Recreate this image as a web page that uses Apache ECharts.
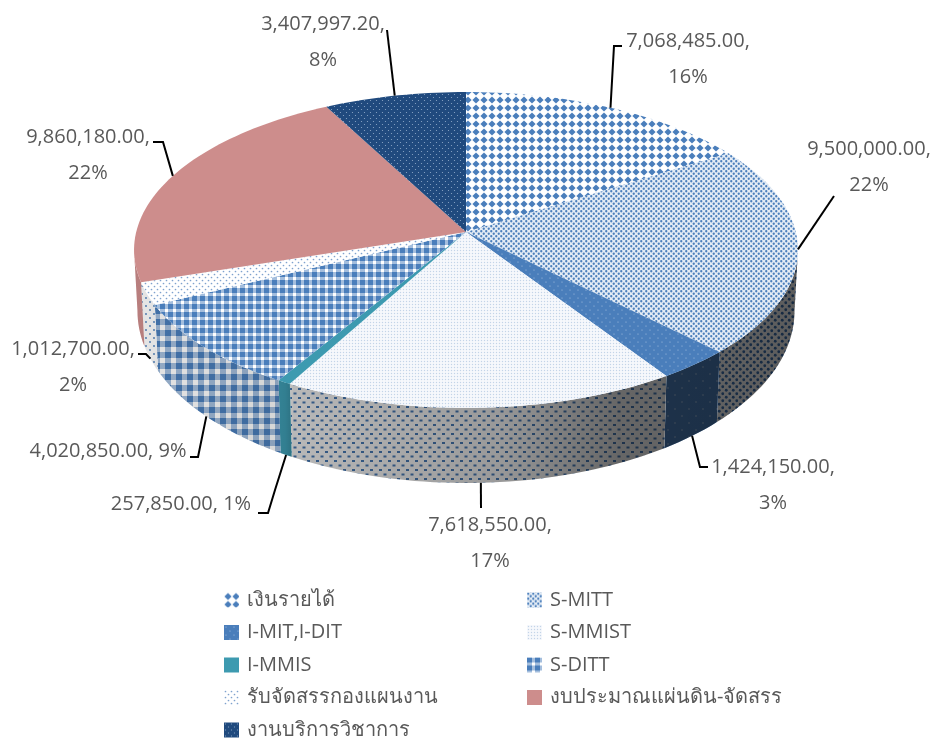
<!DOCTYPE html>
<html>
<head>
<meta charset="utf-8">
<style>html,body{margin:0;padding:0;background:#fff}</style>
<script src="https://cdn.jsdelivr.net/npm/echarts@6/dist/echarts.min.js"></script>
</head>
<body>
<div id="chart" style="width:935px;height:740px;"></div>
<script>
var sliceNames = ["เงินรายได้", "S-MITT", "I-MIT,I-DIT", "S-MMIST", "I-MMIS", "S-DITT", "รับจัดสรรกองแผนงาน", "งบประมาณแผ่นดิน-จัดสรร", "งานบริการวิชาการ"];
var sliceValues = [7068485.00, 9500000.00, 1424150.00, 7618550.00, 257850.00, 4020850.00, 1012700.00, 9860180.00, 3407997.20];
var legendLeft = ["เงินรายได้", "I-MIT,I-DIT", "I-MMIS", "รับจัดสรรกองแผนงาน", "งานบริการวิชาการ"];
var legendRight = ["S-MITT", "S-MMIST", "S-DITT", "งบประมาณแผ่นดิน-จัดสรร"];

// text box position + leader elbow for each slice
var labelSpots = [
  { x: 688, y: 59, lines: 2, elbow: [[614, 46], [622, 46]], ring: "top" },
  { x: 869, y: 167, lines: 2, elbow: [[834, 196]], ring: "top" },
  { x: 773, y: 485, lines: 2, elbow: [[700, 467], [708, 467]], ring: "bottom" },
  { x: 490, y: 543, lines: 2, elbow: [[481, 508]], ring: "bottom" },
  { x: 181, y: 504, lines: 1, elbow: [[275, 490], [268, 513], [258, 513]], ring: "bottom" },
  { x: 108, y: 451, lines: 1, elbow: [[198, 457], [190, 457]], ring: "bottom" },
  { x: 73, y: 367, lines: 2, elbow: [[146, 354], [138, 354]], ring: "bottom" },
  { x: 88, y: 155, lines: 2, elbow: [[163, 142], [153, 142]], ring: "top" },
  { x: 323, y: 42, lines: 2, elbow: [[387, 30]], ring: "top" }
];

var blue = "#4a7ebb";

function tile(w, h, bg, draw) {
  var c = document.createElement("canvas");
  c.width = w;
  c.height = h;
  var g = c.getContext("2d");
  g.fillStyle = bg;
  g.fillRect(0, 0, w, h);
  draw(g);
  return { image: c, repeat: "repeat" };
}
function dots(color, r, list) {
  return function(g) {
    g.fillStyle = color;
    list.forEach(function(p) {
      g.beginPath();
      g.arc(p[0], p[1], r, 0, Math.PI * 2);
      g.fill();
    });
  };
}
function dashes(color, w, h, list) {
  return function(g) {
    g.fillStyle = color;
    list.forEach(function(p) {
      g.fillRect(p[0], p[1], w, h);
    });
  };
}
function diamond(g) {
  g.fillStyle = blue;
  g.beginPath();
  g.moveTo(4, 0.4);
  g.lineTo(7.6, 4);
  g.lineTo(4, 7.6);
  g.lineTo(0.4, 4);
  g.closePath();
  g.fill();
}
function gingham(step, bar) {
  return function(g) {
    g.fillStyle = "rgba(74,126,187,0.5)";
    g.fillRect(0, 0, bar, step);
    g.fillRect(0, 0, step, bar);
    g.fillStyle = blue;
    g.fillRect(0, 0, bar, bar);
  };
}

var topFills = [
  tile(8, 8, "#fff", diamond),
  tile(5, 5, "#e4ecf5", dots(blue, 1.15, [[1.25, 1.25], [3.75, 3.75]])),
  tile(8, 8, blue, dots("#a9c3e2", 0.6, [[2, 2], [6, 6]])),
  tile(3, 3, "#f6f8fc", dots("#c3d4e8", 0.7, [[1.5, 1.5]])),
  "#3d9ab0",
  tile(8, 8, "#fff", gingham(8, 5)),
  tile(6, 6, "#fff", dots("#7fa2ce", 0.85, [[1.5, 1.5], [4.5, 4.5]])),
  "#cd8d8c",
  tile(6, 6, "#204a7e", dots("#92abca", 0.6, [[1.5, 1.5], [4.5, 4.5]]))
];
var wallFills = [
  "#fff",
  tile(7, 7, "#fff", dots("#3f74b4", 1.4, [[1.75, 1.75], [5.25, 5.25]])),
  tile(14, 14, blue, dots("#a9c3e2", 0.8, [[3, 3], [10, 10]])),
  tile(9, 9, "#fff", dashes(blue, 3, 2, [[1, 1], [5.5, 5.5]])),
  "#3d9ab0",
  tile(11, 11, "#fff", gingham(11, 6)),
  tile(8, 8, "#fff", dots(blue, 0.9, [[2, 2], [6, 6]])),
  "#cd8d8c",
  "#204a7e"
];

// light falls off toward the right of the wall
var wallShade = {
  type: "linear", x: 134, y: 0, x2: 798, y2: 0, global: true,
  colorStops: [
    { offset: 0, color: "rgba(0,0,0,0.10)" },
    { offset: 0.22, color: "rgba(0,0,0,0.16)" },
    { offset: 0.228, color: "rgba(0,0,0,0.18)" },
    { offset: 0.24, color: "rgba(0,0,0,0.28)" },
    { offset: 0.55, color: "rgba(0,0,0,0.40)" },
    { offset: 0.73, color: "rgba(0,0,0,0.60)" },
    { offset: 1, color: "rgba(0,0,0,0.64)" }
  ]
};

// tilted disc: perspective projection of a circle
var persp = 0.1139;
var topRing = { cx: 466, cy: 232, a: 329.8, b: 155.9 };
var bottomRing = { cx: 466, cy: 291.5, a: 326.4, b: 169.7 };
function project(ring, deg) {
  var t = deg * Math.PI / 180;
  var u = Math.sin(t), v = Math.cos(t), d = 1 + persp * v;
  return [ring.cx + ring.a * u / d, ring.cy - ring.b * v / d];
}
function arcPts(ring, from, to) {
  var n = Math.max(2, Math.ceil(Math.abs(to - from) / 1.5));
  var pts = [];
  for (var i = 0; i <= n; i++) {
    pts.push(project(ring, from + (to - from) * i / n));
  }
  return pts;
}

var total = sliceValues.reduce(function(s, v) { return s + v; }, 0);
var starts = [];
sliceValues.reduce(function(s, v, i) {
  starts[i] = s / total * 360;
  return s + v;
}, 0);
var wallMin = Math.acos(-persp) * 180 / Math.PI;
var wallMax = 360 - wallMin;

function money(v) {
  return v.toLocaleString("en-US", { minimumFractionDigits: 2, maximumFractionDigits: 2 });
}

function renderSlice(i, api) {
  var value = api.value(0);
  var from = starts[i], to = from + value / total * 360;
  var kids = [];
  var wa = Math.max(from, wallMin), wb = Math.min(to, wallMax);
  if (wb > wa) {
    var wall = arcPts(topRing, wa, wb).concat(arcPts(bottomRing, wb, wa));
    kids.push({ type: "polygon", shape: { points: wall }, style: { fill: wallFills[i] }, silent: true });
    kids.push({ type: "polygon", shape: { points: wall }, style: { fill: wallShade }, silent: true });
  }
  var top = [[topRing.cx, topRing.cy]].concat(arcPts(topRing, from, to));
  kids.push({ type: "polygon", shape: { points: top }, style: { fill: topFills[i] }, silent: true });

  var spot = labelSpots[i];
  var mid = (from + to) / 2;
  var anchor = project(spot.ring === "top" ? topRing : bottomRing, mid);
  kids.push({
    type: "polyline",
    shape: { points: [anchor].concat(spot.elbow) },
    style: { fill: null, stroke: "#000", lineWidth: 2 },
    silent: true,
    z2: 20
  });
  var sep = spot.lines === 2 ? ",\n" : ", ";
  kids.push({
    type: "text",
    x: spot.x,
    y: spot.y,
    style: {
      text: money(value) + sep + Math.round(value / total * 100) + "%",
      font: "20px 'Open Sans', 'Noto Sans', sans-serif",
      fill: "#595959",
      align: "center",
      verticalAlign: "middle",
      lineHeight: 36
    },
    silent: true,
    z2: 20
  });
  return { type: "group", children: kids };
}

var chart = echarts.init(document.getElementById("chart"), null, { renderer: "canvas" });

var series = sliceNames.map(function(name, i) {
  return {
    name: name,
    type: "custom",
    coordinateSystem: "none",
    animation: false,
    itemStyle: { color: topFills[i] },
    data: [[sliceValues[i]]],
    renderItem: function(params, api) {
      return renderSlice(i, api);
    }
  };
});

function legendData(names) {
  return names.map(function(n) {
    return { name: n, icon: "rect", itemStyle: { color: topFills[sliceNames.indexOf(n)], borderWidth: 0 } };
  });
}
var legendBase = {
  orient: "vertical",
  top: 590,
  height: 150,
  padding: 0,
  itemWidth: 15,
  itemHeight: 15,
  itemGap: 12.5,
  selectedMode: false,
  textStyle: { color: "#595959", fontSize: 20, lineHeight: 20, fontFamily: "'Open Sans', 'Noto Sans', sans-serif", padding: [0, 0, 0, 3] }
};

chart.setOption({
  animation: false,
  legend: [
    Object.assign({}, legendBase, { left: 224, data: legendData(legendLeft) }),
    Object.assign({}, legendBase, { left: 527, data: legendData(legendRight) })
  ],
  series: series
});
</script>
</body>
</html>
